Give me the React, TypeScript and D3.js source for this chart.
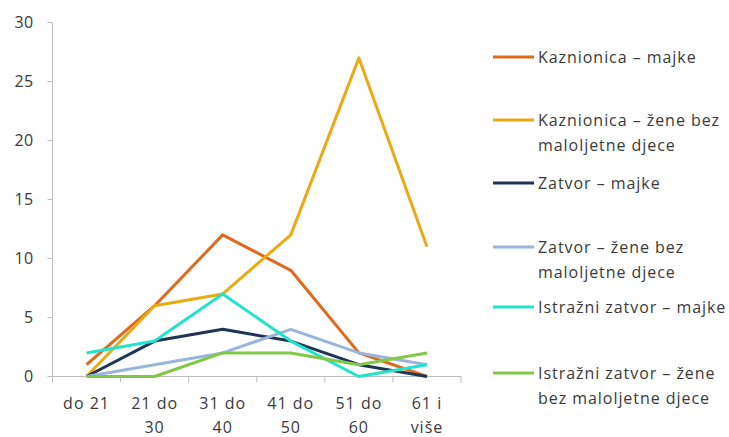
import * as d3 from "d3"

const categories = [["do 21"], ["21 do", "30"], ["31 do", "40"], ["41 do", "50"], ["51 do", "60"], ["61 i", "više"]]
const yTicks = [0, 5, 10, 15, 20, 25, 30]

const kaznionicaMajke = [1, 6, 12, 9, 2, 0]
const kaznionicaZene = [0, 6, 7, 12, 27, 11]
const zatvorMajke = [0, 3, 4, 3, 1, 0]
const zatvorZene = [0, 1, 2, 4, 2, 1]
const istrazniMajke = [2, 3, 7, 3, 0, 1]
const istrazniZene = [0, 0, 2, 2, 1, 2]

interface Series {
    name: string[];
    values: number[];
    color: string;
}

const series: Series[] = [
    { name: ["Kaznionica – majke"], values: kaznionicaMajke, color: "#E0691A" },
    { name: ["Kaznionica – žene bez", "maloljetne djece"], values: kaznionicaZene, color: "#EBAA14" },
    { name: ["Zatvor – majke"], values: zatvorMajke, color: "#1E3556" },
    { name: ["Zatvor – žene bez", "maloljetne djece"], values: zatvorZene, color: "#9AB5DA" },
    { name: ["Istražni zatvor – majke"], values: istrazniMajke, color: "#22E3CC" },
    { name: ["Istražni zatvor – žene", "bez maloljetne djece"], values: istrazniZene, color: "#80C846" },
]

// legend rows (centre of first text line)
const legendY = [57, 120, 183, 247, 307, 373]

export default function App() {
    const width = 729
    const height = 437
    const x0 = 52.5, x1 = 461
    const yBottom = 376.5, yTop = 22.5
    const band = d3.scaleBand<number>().domain(d3.range(categories.length)).range([x0, x1]).padding(0)
    const y = d3.scaleLinear().domain([0, 30]).range([yBottom, yTop])
    const cx = (i: number) => (band(i) ?? 0) + band.bandwidth() / 2
    const line = d3.line<number>().x((_, i) => cx(i)).y((v) => y(v))
    const font = "'Open Sans', sans-serif"
    const textColor = "#3a3a3a"
    const edges = d3.range(categories.length + 1).map((i) => x0 + i * band.bandwidth())

    return (
        <svg width={width} height={height} style={{ position: "absolute", left: 0, top: 0 }} fontFamily={font}>
            <rect width={width} height={height} fill="white" />
            {/* y axis */}
            <line x1={x0} x2={x0} y1={yTop} y2={yBottom} stroke="#BDBDBD" strokeWidth={1} />
            {yTicks.map((t) => (
                <g key={t}>
                    <line x1={x0 - 5} x2={x0} y1={y(t)} y2={y(t)} stroke="#BDBDBD" />
                    <text x={x0 - 19} y={y(t)} dy="0.35em" textAnchor="end" fontSize={16} letterSpacing={0.4} fill={textColor}>{t}</text>
                </g>
            ))}
            {/* x axis */}
            <line x1={x0} x2={x1} y1={yBottom} y2={yBottom} stroke="#BDBDBD" strokeWidth={1} />
            {edges.map((e, i) => (
                <line key={i} x1={e} x2={e} y1={yBottom} y2={yBottom + 6} stroke="#BDBDBD" />
            ))}
            {categories.map((c, i) => (
                <text key={i} x={cx(i)} y={403} textAnchor="middle" fontSize={16} letterSpacing={1} fill={textColor}>
                    {c.map((s, j) => (
                        <tspan key={j} x={cx(i)} dy={j === 0 ? "0.35em" : 24}>{s}</tspan>
                    ))}
                </text>
            ))}
            {series.map((s, k) => (
                <path key={k} d={line(s.values) ?? ""} fill="none" stroke={s.color} strokeWidth={3} strokeLinejoin="round" />
            ))}
            {/* legend */}
            {series.map((s, k) => (
                <g key={k}>
                    <line x1={493} x2={534} y1={legendY[k]} y2={legendY[k]} stroke={s.color} strokeWidth={3} />
                    <text x={538} y={legendY[k]} fontSize={16} letterSpacing={0.95} fill={textColor}>
                        {s.name.map((n, j) => (
                            <tspan key={j} x={538} dy={j === 0 ? "0.35em" : 25}>{n}</tspan>
                        ))}
                    </text>
                </g>
            ))}
        </svg>
    )
}
